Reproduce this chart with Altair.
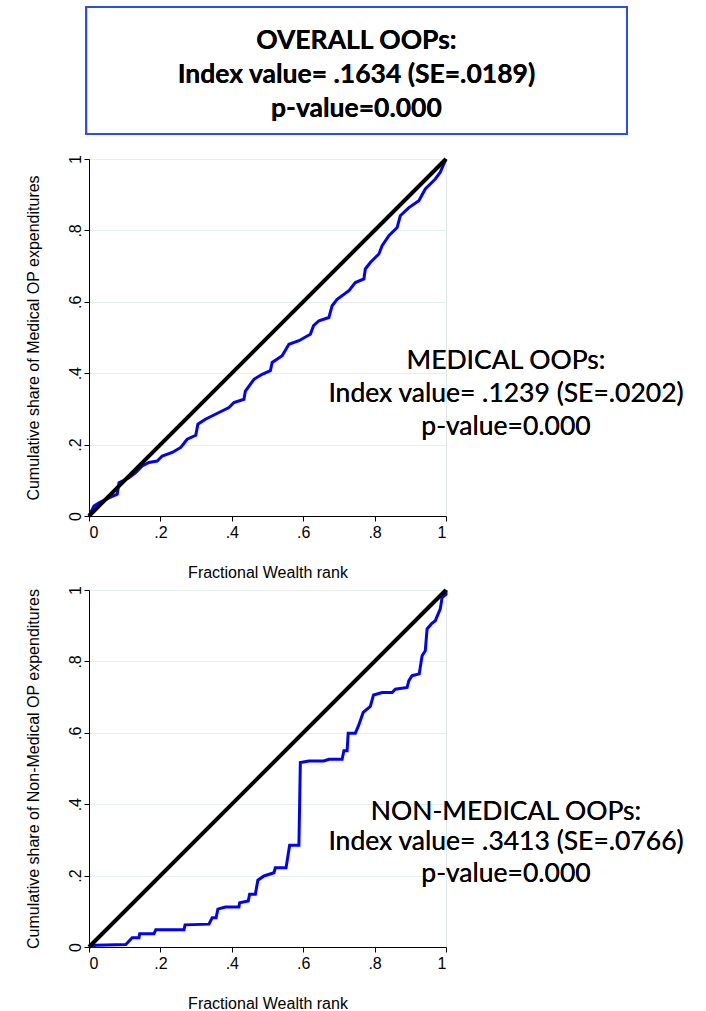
import altair as alt
import pandas as pd

# ---------------- data ----------------
med_rank = [0.0, 0.014, 0.028, 0.056, 0.079, 0.084, 0.112, 0.13, 0.149, 0.168, 0.191, 0.205,
            0.233, 0.257, 0.275, 0.299, 0.305, 0.326, 0.364, 0.392, 0.406, 0.434, 0.438,
            0.462, 0.485, 0.508, 0.513, 0.541, 0.56, 0.588, 0.62, 0.629, 0.644, 0.672,
            0.681, 0.695, 0.728, 0.746, 0.77, 0.774, 0.788, 0.812, 0.821, 0.84, 0.863,
            0.872, 0.896, 0.924, 0.942, 0.97, 0.984, 1.0]
med_share = [0.0, 0.028, 0.037, 0.051, 0.061, 0.093, 0.107, 0.121, 0.14, 0.15, 0.154, 0.168,
             0.178, 0.192, 0.215, 0.226, 0.257, 0.271, 0.29, 0.304, 0.318, 0.327, 0.35,
             0.383, 0.397, 0.407, 0.43, 0.449, 0.481, 0.491, 0.509, 0.533, 0.547, 0.556,
             0.589, 0.607, 0.631, 0.654, 0.664, 0.692, 0.71, 0.734, 0.757, 0.785, 0.808,
             0.841, 0.864, 0.883, 0.916, 0.944, 0.963, 1.0]

non_rank = [0.0, 0.019, 0.103, 0.121, 0.14, 0.142, 0.182, 0.187, 0.266, 0.269, 0.336, 0.345,
            0.356, 0.361, 0.382, 0.42, 0.422, 0.446, 0.45, 0.466, 0.473, 0.49, 0.518, 0.522,
            0.552, 0.562, 0.588, 0.592, 0.616, 0.658, 0.672, 0.709, 0.714, 0.723, 0.726,
            0.746, 0.755, 0.768, 0.788, 0.797, 0.821, 0.849, 0.858, 0.891, 0.896, 0.905,
            0.925, 0.933, 0.942, 0.947, 0.959, 0.97, 0.984, 0.989, 1.0, 1.0]
non_share = [0.0, 0.005, 0.007, 0.026, 0.026, 0.037, 0.037, 0.048, 0.048, 0.062, 0.064, 0.082,
             0.082, 0.106, 0.112, 0.112, 0.124, 0.129, 0.148, 0.148, 0.187, 0.199, 0.208,
             0.222, 0.222, 0.285, 0.285, 0.517, 0.521, 0.521, 0.526, 0.526, 0.55, 0.55,
             0.599, 0.599, 0.62, 0.657, 0.674, 0.706, 0.713, 0.713, 0.722, 0.727, 0.746,
             0.76, 0.765, 0.816, 0.83, 0.891, 0.905, 0.914, 0.947, 0.979, 0.988, 1.0]

equality_rank = [0.0, 1.0]
equality_share = [0.0, 1.0]

tick_values = [0, 0.2, 0.4, 0.6, 0.8, 1]

overall_lines = ["OVERALL OOPs:", "Index value= .1634 (SE=.0189)", "p-value=0.000"]
medical_lines = ["MEDICAL OOPs:", "Index value= .1239 (SE=.0202)", "p-value=0.000"]
nonmed_lines = ["NON-MEDICAL OOPs:", "Index value= .3413 (SE=.0766)", "p-value=0.000"]

AXFONT = "Liberation Sans"
ANNFONT = "Lato"
LABEL_EXPR = "datum.value == 0 ? '0' : datum.value == 1 ? '1' : replace(format(datum.value, '.1f'), '0.', '.')"


def panel(rank, share, ytitle, ann_lines, ann_y, box=False):
    xscale = alt.Scale(domain=[0, 1], nice=False, zero=False)
    yscale = alt.Scale(domain=[0, 1], nice=False, zero=False)
    xaxis = alt.Axis(values=tick_values, labelExpr=LABEL_EXPR, grid=False,
                     labelFont=AXFONT, labelFontSize=16, labelColor="black",
                     tickColor="black", domainColor="black", tickSize=5, labelPadding=3,
                     title="Fractional Wealth rank", titleFont=AXFONT, titleFontSize=16,
                     titleFontWeight="normal", titleColor="black", titlePadding=24)
    yaxis = alt.Axis(values=tick_values, labelExpr=LABEL_EXPR, grid=True,
                     gridColor="#e6eeee", gridWidth=1,
                     labelFont=AXFONT, labelFontSize=16, labelColor="black",
                     labelAngle=270, labelAlign="center", labelBaseline="bottom",
                     tickColor="black", domainColor="black", tickSize=5, labelPadding=1,
                     title=ytitle, titleFont=AXFONT, titleFontSize=16,
                     titleFontWeight="normal", titleColor="black", titlePadding=26)

    eq_df = pd.DataFrame({"rank": equality_rank, "share": equality_share})
    cur_df = pd.DataFrame({"rank": rank, "share": share})

    eq = alt.Chart(eq_df).mark_line(color="black", strokeWidth=4).encode(
        x=alt.X("rank:Q", scale=xscale, axis=xaxis),
        y=alt.Y("share:Q", scale=yscale, axis=yaxis),
    )
    cur = alt.Chart(cur_df).mark_line(color="#0000ff", strokeWidth=3, interpolate="linear").encode(
        x=alt.X("rank:Q", scale=xscale),
        y=alt.Y("share:Q", scale=yscale),
    )
    layers = [cur, eq]
    for txt, yy in zip(ann_lines, ann_y):
        layers.append(
            alt.Chart(eq_df).mark_text(text=txt, font=ANNFONT, fontSize=26.5, fontWeight="normal",
                                       color="black", align="center", baseline="middle").encode(
                x=alt.datum(1.168), y=alt.datum(yy))
        )
    if box:
        layers.append(
            alt.Chart(eq_df).mark_rect(fillOpacity=0, stroke="#2b4fe6", strokeWidth=2).encode(
                x=alt.datum(-0.008), x2=alt.datum(1.507),
                y=alt.datum(1.426), y2=alt.datum(1.07))
        )
        for txt, yy in zip(overall_lines, [1.33, 1.234, 1.14]):
            layers.append(
                alt.Chart(eq_df).mark_text(text=txt, font=ANNFONT, fontSize=26.5, fontWeight="bold",
                                           color="black", align="center", baseline="middle").encode(
                    x=alt.datum(0.749), y=alt.datum(yy))
            )
    return alt.layer(*layers).properties(width=357, height=357)


top = panel(med_rank, med_share, "Cumulative share of Medical OP expenditures",
            medical_lines, [0.434, 0.342, 0.249], box=True)
bottom = panel(non_rank, non_share, "Cumulative share of Non-Medical OP expenditures",
               nonmed_lines, [0.378, 0.294, 0.204])

chart = alt.vconcat(top, bottom, spacing=0).properties(
    padding={"left": 24, "top": 5, "right": 5, "bottom": 5}
).configure_view(stroke="#e0e8e8", strokeWidth=1)

chart.save("out.html", embed_options={"renderer": "svg", "actions": False})
